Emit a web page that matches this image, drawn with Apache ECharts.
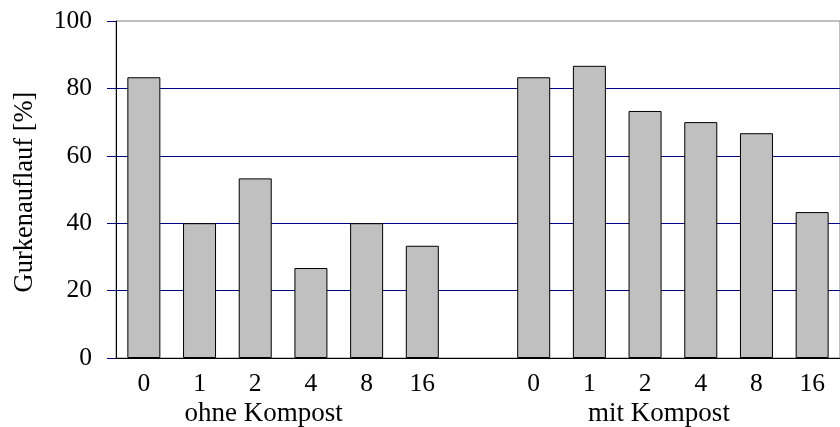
<!DOCTYPE html>
<html><head><meta charset="utf-8">
<script src="https://cdn.jsdelivr.net/npm/echarts@6/dist/echarts.min.js"></script>
<style>html,body{margin:0;padding:0;background:#fff}#c{width:840px;height:427px}</style>
</head><body><div id="c"></div>
<script>
const categories = ['0','1','2','4','8','16','','0','1','2','4','8','16'];
const values = [83.3, 40, 53.3, 26.7, 40, 33.3, null, 83.3, 86.7, 73.3, 70, 66.7, 43.3];
const groupLabels = ['ohne Kompost', 'mit Kompost'];
const yTicks = [0, 20, 40, 60, 80, 100];
const yTitle = 'Gurkenauflauf [%]';

const FONT = 'Liberation Serif';
const chart = echarts.init(document.getElementById('c'));
chart.setOption({
  animation: false,
  grid: { left: 116, top: 21, width: 734.5, height: 340, containLabel: false,
          show: true, borderColor: '#808080', borderWidth: 1, backgroundColor: 'transparent' },
  xAxis: [{
    type: 'category', data: categories,
    axisLine: { lineStyle: { color: '#000', width: 1 } },
    axisTick: { show: false },
    axisLabel: { color: '#000', fontFamily: FONT, fontSize: 25.5, margin: 13, interval: 0 }
  }, {
    type: 'value', min: 0, max: 13, position: 'bottom', offset: 31,
    axisLine: { show: false }, axisTick: { show: false }, splitLine: { show: false },
    axisLabel: {
      color: '#000', fontFamily: FONT, fontSize: 27, margin: 11,
      customValues: [2.65, 9.75],
      formatter: v => (v < 6.5 ? groupLabels[0] : groupLabels[1])
    }
  }],
  yAxis: {
    type: 'value', min: yTicks[0], max: yTicks[yTicks.length - 1], interval: 20,
    axisLine: { show: true, lineStyle: { color: '#000', width: 1 } },
    axisTick: { show: true, length: 9, lineStyle: { color: '#000080' } },
    axisLabel: { color: '#000', fontFamily: FONT, fontSize: 25.5, margin: 24 },
    splitLine: { show: true, showMaxLine: false, lineStyle: { color: '#000080', width: 1 } }
  },
  graphic: [{
    type: 'text', x: 25, y: 192, rotation: Math.PI / 2,
    style: { text: yTitle, fill: '#000', font: '26.5px "' + FONT + '"', align: 'center', verticalAlign: 'middle' }
  }],
  series: [{
    type: 'bar', data: values, barWidth: 33,
    itemStyle: { color: '#c0c0c0', borderColor: '#000', borderWidth: 1 }
  }]
});
</script></body></html>
